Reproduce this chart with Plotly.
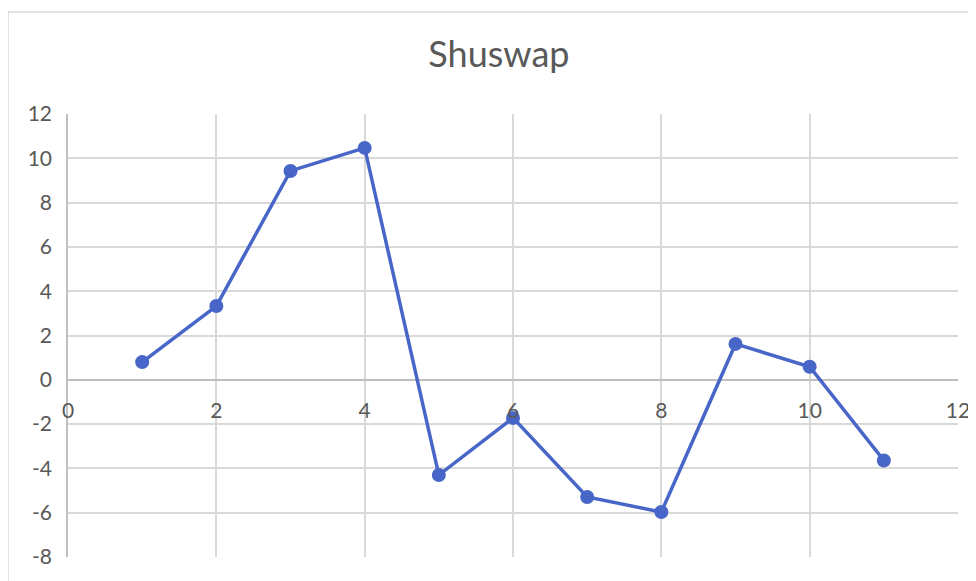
import plotly.graph_objects as go

# Shuswap series
x_vals = [1, 2, 3, 4, 5, 6, 7, 8, 9, 10, 11]
y_vals = [0.8, 3.33, 9.43, 10.47, -4.3, -1.72, -5.29, -5.97, 1.62, 0.59, -3.64]

x_ticks = [0, 2, 4, 6, 8, 10, 12]
y_ticks = [-8, -6, -4, -2, 0, 2, 4, 6, 8, 10, 12]
y_labels = ["-8", "-6", "-4", "-2", "0", "2", "4", "6", "8", "10", "12"]

line_col = "#4766C8"
grid_col = "#D9D9D9"
text_col = "#595959"

fig = go.Figure(go.Scatter(
    x=x_vals, y=y_vals, mode="lines+markers",
    line=dict(color=line_col, width=3.5),
    marker=dict(color=line_col, size=14),
    showlegend=False,
))

fig.update_layout(
    width=976, height=581,
    margin=dict(l=60, r=26, t=106, b=32),
    paper_bgcolor="white", plot_bgcolor="white",
    font=dict(family="Lato", color=text_col, size=21),
    title=dict(text="Shuswap", x=0.503, xanchor="center", y=0.92, yanchor="middle",
               font=dict(size=36, color=text_col)),
    xaxis=dict(range=[0, 12], tickvals=x_ticks, showgrid=True, gridcolor=grid_col, gridwidth=1.5,
               zeroline=False, showline=False, anchor="free", position=0.4,
               ticks="outside", ticklen=12, tickcolor="rgba(0,0,0,0)"),
    yaxis=dict(range=[-8, 12], tickvals=y_ticks, ticktext=y_labels,
               showgrid=True, gridcolor=grid_col, gridwidth=1.5,
               zeroline=True, zerolinecolor="#BFBFBF", zerolinewidth=1.5,
               showline=True, linecolor="#BFBFBF", linewidth=1.5,
               ticks="outside", ticklen=10, tickcolor="rgba(0,0,0,0)"),
)

# chart frame (Excel style border, cropped by the window)
fig.add_shape(type="rect", xref="paper", yref="paper",
              x0=-0.0674, y0=-0.2, x1=1.2, y1=1.23,
              line=dict(color="#D9D9D9", width=1.5), layer="below")

fig.write_html("out.html")
